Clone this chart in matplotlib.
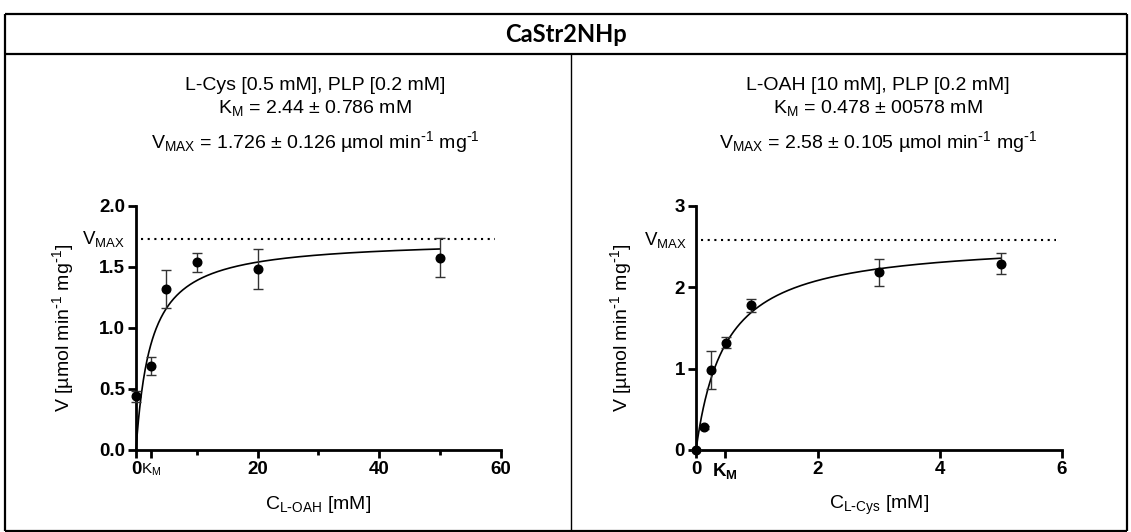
import numpy as np
import matplotlib
matplotlib.use('Agg')
import matplotlib.pyplot as plt
from matplotlib.lines import Line2D

plt.rcParams['font.family'] = ['Liberation Sans', 'DejaVu Sans']
plt.rcParams['mathtext.default'] = 'regular'

W, H = 1131, 532

title = 'CaStr2NHp'

# Left panel: varying L-OAH
oah_conc = [0, 2.5, 5, 10, 20, 50]
oah_v = [0.44, 0.69, 1.32, 1.535, 1.48, 1.575]
oah_err = [0.045, 0.075, 0.155, 0.08, 0.165, 0.16]
oah_km = 2.44
oah_vmax = 1.726
oah_text = ['L-Cys [0.5 mM], PLP [0.2 mM]',
            r'K$_{M}$ = 2.44 ± 0.786 mM',
            r'V$_{MAX}$ = 1.726 ± 0.126 µmol min$^{\text{-}1}$ mg$^{\text{-}1}$']

# Right panel: varying L-Cys
cys_conc = [0, 0.125, 0.25, 0.5, 0.9, 3, 5]
cys_v = [0, 0.28, 0.98, 1.318, 1.78, 2.18, 2.29]
cys_err = [0, 0.02, 0.235, 0.07, 0.08, 0.16, 0.13]
cys_km = 0.478
cys_vmax = 2.58
cys_text = ['L-OAH [10 mM], PLP [0.2 mM]',
            r'K$_{M}$ = 0.478 ± 00578 mM',
            r'V$_{MAX}$ = 2.58 ± 0.105 µmol min$^{\text{-}1}$ mg$^{\text{-}1}$']

ylabel = r'V [µmol min$^{\text{-}1}$ mg$^{\text{-}1}$]'

fig = plt.figure(figsize=(W / 100, H / 100), dpi=100)


def px(x, y):
    return x / W, 1 - y / H


def fline(x0, y0, x1, y1, lw):
    a, b = px(x0, y0)
    c, d = px(x1, y1)
    fig.add_artist(Line2D([a, c], [b, d], color='black', lw=lw, solid_capstyle='butt'))


# table frame
fline(5, 14, 1127, 14, 1.6)
fline(5, 54, 1127, 54, 1.6)
fline(5, 14, 5, 531, 1.6)
fline(1127, 14, 1127, 531, 1.6)
fline(5, 531, 1127, 531, 1.6)
fline(571, 54, 571, 531, 1.0)
fig.text(*px(566, 34), title, ha='center', va='center', fontsize=17,
         fontweight='bold', family=['Lato', 'DejaVu Sans'])


def panel(rect, conc, v, err, km, vmax, xmax, ymax, xticks, yticks, yfmt,
          minor, km_bold, xlabel, text, text_x, ylabel_x, vmax_x):
    ax = fig.add_axes(rect)
    ax.set_xlim(0, xmax)
    ax.set_ylim(0, ymax)
    for s in ['top', 'right']:
        ax.spines[s].set_visible(False)
    for s in ['left', 'bottom']:
        ax.spines[s].set_linewidth(2.0)
    xs = np.linspace(0, max(conc), 500)
    ax.plot(xs, vmax * xs / (km + xs), color='black', lw=1.2, clip_on=False, zorder=3)
    ax.errorbar(conc, v, yerr=err, fmt='o', color='black', ms=6.2, ecolor='#333333',
                elinewidth=1.0, capsize=3.5, capthick=1.0, clip_on=False, zorder=4)
    ax.axhline(vmax, xmin=0.015, xmax=0.985, color='black', lw=1.5,
               linestyle=(0, (1, 2.2)))
    ticks = list(xticks) + [km]
    labels = ['%g' % t for t in xticks] + ['K$_{M}$']
    ax.set_xticks(ticks)
    ax.set_xticklabels(labels)
    ax.set_xticks(minor, minor=True)
    ax.set_yticks(yticks)
    ax.set_yticklabels([yfmt % t for t in yticks])
    ax.tick_params(axis='both', which='major', length=6, width=2.0, labelsize=13.5, pad=2)
    ax.tick_params(axis='x', which='minor', length=3.5, width=2.0)
    for lab in ax.get_xticklabels() + ax.get_yticklabels():
        lab.set_fontweight('bold')
    klab = ax.get_xticklabels()[-1]
    if not km_bold:
        klab.set_fontweight('normal')
        klab.set_fontsize(11)
    ax.set_xlabel(xlabel, fontsize=14)
    ax.xaxis.set_label_coords(0.5, -0.18)
    ax.set_ylabel(ylabel, fontsize=14)
    ax.yaxis.set_label_coords((ylabel_x / W - rect[0]) / rect[2], 0.5)
    fig.text(*px(text_x, 86), text[0], ha='center', va='center', fontsize=14)
    fig.text(*px(text_x, 108), text[1], ha='center', va='center', fontsize=14)
    fig.text(*px(text_x, 142), text[2], ha='center', va='center', fontsize=14)
    ax.text(vmax_x, vmax, 'V$_{MAX}$', transform=ax.get_yaxis_transform(),
            ha='right', va='center', fontsize=13.5)
    return ax


panel([136 / W, 82 / H, 364.7 / W, 244.3 / H], oah_conc, oah_v, oah_err, oah_km,
      oah_vmax, 60, 2.0, [0, 20, 40, 60], [0, 0.5, 1.0, 1.5, 2.0], '%.1f',
      [10, 30, 50], False, r'C$_{L\text{-}OAH}$ [mM]', oah_text, 315, 76, -0.03)

panel([696 / W, 82 / H, 365.7 / W, 244.3 / H], cys_conc, cys_v, cys_err, cys_km,
      cys_vmax, 6, 3, [0, 2, 4, 6], [0, 1, 2, 3], '%d',
      [], True, r'C$_{L\text{-}Cys}$ [mM]', cys_text, 878, 634, -0.025)

fig.savefig('out.png', dpi=100)
